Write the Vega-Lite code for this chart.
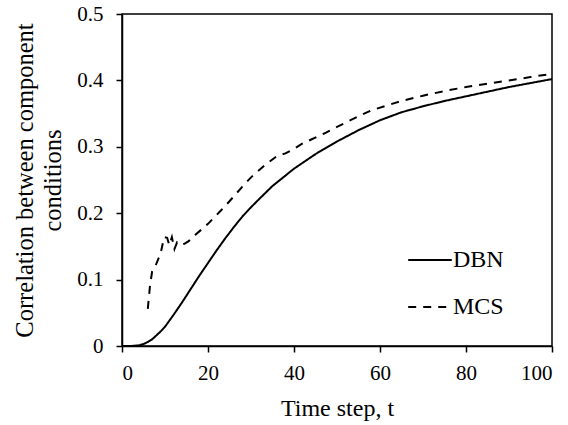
{
  "$schema": "https://vega.github.io/schema/vega-lite/v6.json",
  "width": 430,
  "height": 332,
  "autosize": {"type": "none"},
  "padding": {"left": 122, "top": 14, "right": 16, "bottom": 79},
  "background": "white",
  "config": {
    "font": "Liberation Serif",
    "view": {"stroke": "black", "strokeWidth": 1.5},
    "axis": {
      "grid": false,
      "domainColor": "black",
      "domainWidth": 1.5,
      "tickColor": "black",
      "tickWidth": 1.5,
      "tickSize": 6,
      "labelFont": "Liberation Serif",
      "labelFontSize": 21,
      "labelColor": "black",
      "titleFont": "Liberation Serif",
      "titleFontWeight": "normal",
      "titleColor": "black"
    }
  },
  "data": {
    "values": [
      {"series": "DBN", "t": 0, "v": 0},
      {"series": "DBN", "t": 2, "v": 0},
      {"series": "DBN", "t": 4, "v": 0.001},
      {"series": "DBN", "t": 5, "v": 0.003},
      {"series": "DBN", "t": 6, "v": 0.006},
      {"series": "DBN", "t": 7, "v": 0.01},
      {"series": "DBN", "t": 8, "v": 0.016},
      {"series": "DBN", "t": 9, "v": 0.022},
      {"series": "DBN", "t": 10, "v": 0.029},
      {"series": "DBN", "t": 11, "v": 0.038},
      {"series": "DBN", "t": 12, "v": 0.047},
      {"series": "DBN", "t": 14, "v": 0.066},
      {"series": "DBN", "t": 16, "v": 0.086},
      {"series": "DBN", "t": 18, "v": 0.106},
      {"series": "DBN", "t": 20, "v": 0.125},
      {"series": "DBN", "t": 22, "v": 0.144},
      {"series": "DBN", "t": 24, "v": 0.162},
      {"series": "DBN", "t": 26, "v": 0.179},
      {"series": "DBN", "t": 28, "v": 0.195},
      {"series": "DBN", "t": 30, "v": 0.209},
      {"series": "DBN", "t": 32, "v": 0.222},
      {"series": "DBN", "t": 35, "v": 0.241},
      {"series": "DBN", "t": 40, "v": 0.267},
      {"series": "DBN", "t": 45, "v": 0.289},
      {"series": "DBN", "t": 50, "v": 0.308},
      {"series": "DBN", "t": 55, "v": 0.325},
      {"series": "DBN", "t": 60, "v": 0.34},
      {"series": "DBN", "t": 65, "v": 0.352},
      {"series": "DBN", "t": 70, "v": 0.361},
      {"series": "DBN", "t": 75, "v": 0.369},
      {"series": "DBN", "t": 80, "v": 0.376},
      {"series": "DBN", "t": 85, "v": 0.383},
      {"series": "DBN", "t": 90, "v": 0.39},
      {"series": "DBN", "t": 95, "v": 0.396},
      {"series": "DBN", "t": 100, "v": 0.402},
      {"series": "MCS", "t": 6, "v": 0.056},
      {"series": "MCS", "t": 6.5, "v": 0.09},
      {"series": "MCS", "t": 7, "v": 0.112},
      {"series": "MCS", "t": 8, "v": 0.124},
      {"series": "MCS", "t": 9, "v": 0.14},
      {"series": "MCS", "t": 9.8, "v": 0.164},
      {"series": "MCS", "t": 10.5, "v": 0.163},
      {"series": "MCS", "t": 11, "v": 0.152},
      {"series": "MCS", "t": 11.6, "v": 0.164},
      {"series": "MCS", "t": 12.2, "v": 0.146},
      {"series": "MCS", "t": 12.8, "v": 0.156},
      {"series": "MCS", "t": 13.5, "v": 0.152},
      {"series": "MCS", "t": 14.5, "v": 0.154},
      {"series": "MCS", "t": 15.5, "v": 0.158},
      {"series": "MCS", "t": 17, "v": 0.167},
      {"series": "MCS", "t": 20, "v": 0.184},
      {"series": "MCS", "t": 23, "v": 0.204},
      {"series": "MCS", "t": 25, "v": 0.218},
      {"series": "MCS", "t": 28, "v": 0.24},
      {"series": "MCS", "t": 30, "v": 0.254},
      {"series": "MCS", "t": 33, "v": 0.271},
      {"series": "MCS", "t": 36, "v": 0.286},
      {"series": "MCS", "t": 38, "v": 0.29},
      {"series": "MCS", "t": 40, "v": 0.297},
      {"series": "MCS", "t": 42, "v": 0.305},
      {"series": "MCS", "t": 44, "v": 0.311},
      {"series": "MCS", "t": 47, "v": 0.32},
      {"series": "MCS", "t": 50, "v": 0.33},
      {"series": "MCS", "t": 55, "v": 0.346},
      {"series": "MCS", "t": 58, "v": 0.355},
      {"series": "MCS", "t": 62, "v": 0.363},
      {"series": "MCS", "t": 65, "v": 0.369},
      {"series": "MCS", "t": 70, "v": 0.377},
      {"series": "MCS", "t": 75, "v": 0.384},
      {"series": "MCS", "t": 80, "v": 0.39},
      {"series": "MCS", "t": 85, "v": 0.395},
      {"series": "MCS", "t": 90, "v": 0.4},
      {"series": "MCS", "t": 95, "v": 0.405},
      {"series": "MCS", "t": 100, "v": 0.41}
    ]
  },
  "mark": {"type": "line", "color": "black", "strokeWidth": 2},
  "encoding": {
    "x": {
      "field": "t", "type": "quantitative",
      "scale": {"domain": [0, 100], "nice": false},
      "axis": {"values": [0, 20, 40, 60, 80, 100], "title": "Time step, t", "labelFont": "Liberation Serif", "titleFont": "Liberation Serif", "titleFontSize": 24, "labelPadding": 10, "titlePadding": 13}
    },
    "y": {
      "field": "v", "type": "quantitative",
      "scale": {"domain": [0, 0.5], "nice": false},
      "axis": {"values": [0, 0.1, 0.2, 0.3, 0.4, 0.5], "format": ".1~f", "title": ["Correlation between component", "conditions"], "labelFont": "Liberation Serif", "titleFont": "Liberation Serif", "titleFontSize": 24.5, "titleLineHeight": 28, "labelPadding": 13, "titlePadding": 11}
    },
    "strokeDash": {
      "field": "series", "type": "nominal",
      "scale": {"domain": ["DBN", "MCS"], "range": [[1, 0], [8, 7]]},
      "legend": {
        "title": null,
        "orient": "none",
        "legendX": 285,
        "legendY": 223,
        "symbolType": "stroke",
        "symbolSize": 1900,
        "symbolStrokeWidth": 2,
        "symbolStrokeColor": "black",
        "labelFont": "Liberation Serif",
        "labelFontSize": 24,
        "labelColor": "black",
        "labelOffset": 0,
        "rowPadding": 12
      }
    }
  }
}
